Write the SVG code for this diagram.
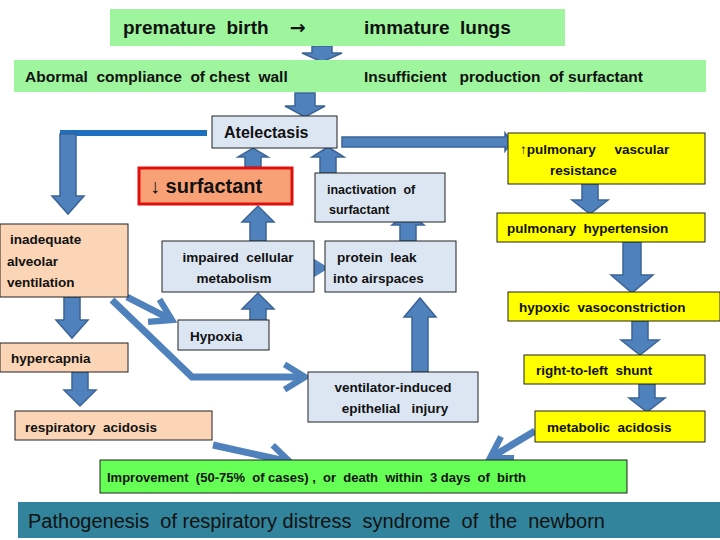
<svg xmlns="http://www.w3.org/2000/svg" width="720" height="540" viewBox="0 0 720 540">
<defs>
<style>
.t{font-family:"Liberation Sans",Arial,sans-serif;font-weight:bold;fill:#111;font-size:13.5px;white-space:pre}
.g{fill:#9ef59e}
.b{fill:#dce6f2;stroke:#222;stroke-width:1}
.o{fill:#fbd5b5;stroke:#222;stroke-width:1}
.y{fill:#ffff00;stroke:#222;stroke-width:1}
.a{fill:#4f81bd;stroke:#3a6496;stroke-width:1.5}
.l{fill:none;stroke:#4f81bd;stroke-width:7}
</style>
<marker id="v" viewBox="0 0 10 10" refX="8" refY="5" markerWidth="4.5" markerHeight="4.5" orient="auto" markerUnits="strokeWidth">
<polyline points="1.5,1 8,5 1.5,9" fill="none" stroke="#4f81bd" stroke-width="2" stroke-linejoin="miter"/>
</marker>
</defs>
<rect width="720" height="540" fill="#fff"/>
<g id="connectors">
<path class="a" d="M312 46H332V53H342L322 62L302 53H312Z"/>
<path class="a" d="M295 93H315V106H325L305 117L285 106H295Z"/>
<path class="l" d="M207 133H60" style="stroke:#1f6fbf;stroke-width:6"/>
<path class="a" d="M60 134H76V196H84L68 214L52 196H60Z"/>
<path class="a" d="M245 167H261V157H268L253 148L238 157H245Z"/>
<path class="a" d="M320 173H336V157H344L328 147L312 157H320Z"/>
<path class="a" d="M342 137H505V133L512 142L505 151V147H342Z"/>
<path class="a" d="M250 241H266V222H274L258 206L242 222H250Z"/>
<path class="a" d="M400 241H416V225H424L408 212L392 225H400Z"/>
<path class="a" d="M250 326H266V309H274L258 293L242 309H250Z"/>
<path class="a" d="M412 372H428V317H436L420 298L404 317H412Z"/>
<path class="a" d="M582 184H598V200H608L590 214L572 200H582Z"/>
<path class="a" d="M623 242H641V275H653L632 293L611 275H623Z"/>
<path class="a" d="M632 321H648V340H659L640 355L621 340H632Z"/>
<path class="a" d="M639 384H655V398H665L647 412L629 398H639Z"/>
<path class="a" d="M64 297H80V320H88L72 338L56 320H64Z"/>
<path class="a" d="M72 372H88V390H96L80 406L64 390H72Z"/>
<path class="l" d="M308 268L323 268" marker-end="url(#v)"/>
<path class="l" d="M127 297L172 320" marker-end="url(#v)"/>
<path class="l" d="M112 300L192 377H305" marker-end="url(#v)"/>
<path class="l" d="M213 445L290 462" marker-end="url(#v)"/>
<path class="l" d="M535 431L490 458" marker-end="url(#v)"/>
</g>
<g id="n-top"><rect class="g" x="110" y="9" width="455" height="37"/><text class="t" x="123" y="34" style="font-size:19px">premature  birth    <tspan style="font-family:'DejaVu Sans',sans-serif">→</tspan></text><text class="t" x="364" y="34" style="font-size:19px">immature  lungs</text></g>
<g id="n-row2"><rect class="g" x="14" y="60" width="692" height="32"/><text class="t" x="25" y="82" style="font-size:15.5px">Abormal  compliance  of chest  wall</text><text class="t" x="364" y="82" style="font-size:15.5px">Insufficient   production  of surfactant</text></g>
<g id="n-atel"><rect class="b" x="212" y="116" width="125" height="32"/><text class="t" x="224" y="138" style="font-size:16px">Atelectasis</text></g>
<g id="n-surf"><rect x="139" y="168" width="153" height="36" fill="#f9a176" stroke="#e01010" stroke-width="3"/><text class="t" x="150" y="193" style="font-size:20px">↓ surfactant</text></g>
<g id="n-inact"><rect class="b" x="315" y="173" width="130" height="49"/><text class="t" x="327" y="194" style="font-size:12.5px">inactivation  of</text><text class="t" x="329" y="214" style="font-size:12.5px">surfactant</text></g>
<g id="n-pvr"><rect class="y" x="508" y="133" width="197" height="51"/><text class="t" x="520" y="154">↑pulmonary     vascular</text><text class="t" x="550" y="175">resistance</text></g>
<g id="n-ph"><rect class="y" x="497" y="213" width="208" height="29"/><text class="t" x="507" y="233">pulmonary  hypertension</text></g>
<g id="n-inad"><rect class="o" x="0" y="224" width="128" height="73"/><text class="t" x="10" y="244">inadequate</text><text class="t" x="7" y="266">alveolar</text><text class="t" x="7" y="287">ventilation</text></g>
<g id="n-imp"><rect class="b" x="162" y="241" width="152" height="51"/><text class="t" x="238" y="262" text-anchor="middle">impaired  cellular</text><text class="t" x="234" y="283" text-anchor="middle">metabolism</text></g>
<g id="n-prot"><rect class="b" x="325" y="241" width="131" height="51"/><text class="t" x="337" y="262">protein  leak</text><text class="t" x="333" y="283">into airspaces</text></g>
<g id="n-hvc"><rect class="y" x="508" y="292" width="212" height="29"/><text class="t" x="519" y="312">hypoxic  vasoconstriction</text></g>
<g id="n-hyp"><rect class="b" x="178" y="320" width="91" height="30"/><text class="t" x="190" y="341">Hypoxia</text></g>
<g id="n-hcap"><rect class="o" x="0" y="343" width="128" height="29"/><text class="t" x="11" y="363">hypercapnia</text></g>
<g id="n-vent"><rect class="b" x="308" y="372" width="170" height="50"/><text class="t" x="393" y="392" text-anchor="middle">ventilator-induced</text><text class="t" x="395" y="413" text-anchor="middle">epithelial   injury</text></g>
<g id="n-rls"><rect class="y" x="524" y="355" width="181" height="29"/><text class="t" x="536" y="375">right-to-left  shunt</text></g>
<g id="n-resp"><rect class="o" x="15" y="411" width="197" height="29"/><text class="t" x="25" y="432">respiratory  acidosis</text></g>
<g id="n-meta"><rect class="y" x="535" y="411" width="170" height="31"/><text class="t" x="547" y="432">metabolic  acidosis</text></g>
<g id="n-impr"><rect x="100" y="460" width="527" height="33" fill="#66ff55" stroke="#222"/><text class="t" x="107" y="482" style="font-size:13px">Improvement  (50-75%  of cases) ,  or  death  within  3 days  of  birth</text></g>
<g id="n-title"><rect x="18" y="502" width="702" height="36" fill="#31849b"/><text class="t" x="28" y="528" style="font-size:20px;font-weight:normal">Pathogenesis  of respiratory distress  syndrome  of  the  newborn</text></g>
</svg>
